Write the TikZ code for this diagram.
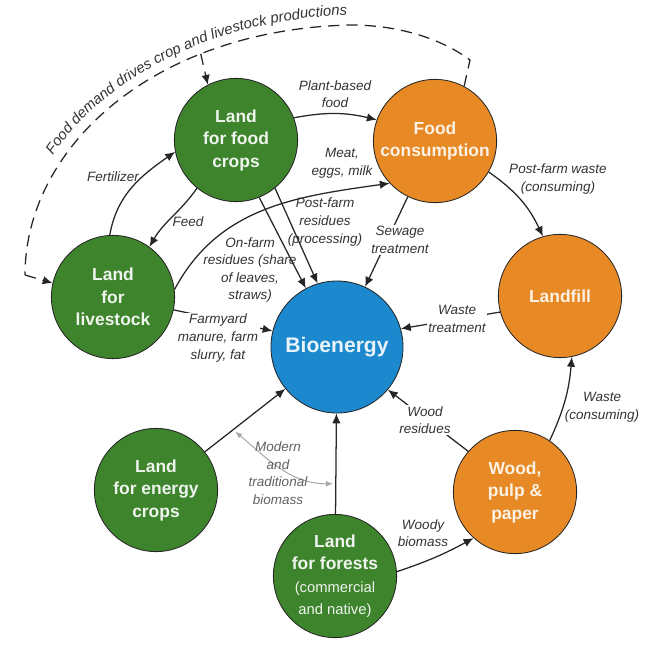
\documentclass[tikz,border=0pt]{standalone}
\usepackage{fontspec}
\setmainfont{Liberation Sans}
\usetikzlibrary{arrows.meta,decorations.text}
\definecolor{landgreen}{RGB}{62,132,44}
\definecolor{sinkorange}{RGB}{231,138,38}
\definecolor{bioblue}{RGB}{28,137,207}
\colorlet{landtext}{landgreen!8!white}
\colorlet{sinktext}{sinkorange!12!white}
\colorlet{biotext}{bioblue!10!white}
\colorlet{flowline}{black!85}
\colorlet{hintline}{black!35}
\newcommand{\lblfont}{\fontsize{9.6}{12.5}\selectfont\itshape}
\newcommand{\circfont}{\fontsize{12.4}{16}\selectfont\bfseries}
\newcommand{\smallreg}[1]{{\mdseries\fontsize{10.5}{13}\selectfont #1}}

\begin{document}
\begin{tikzpicture}[x=0.025cm,y=0.025cm,
    any/.style={circle,draw=black!85,line width=0.6pt,minimum size=3.08cm,%
                inner sep=0pt,align=center,font=\circfont},
    land/.style={any,fill=landgreen,text=landtext},
    sink/.style={any,fill=sinkorange,text=sinktext},
    hub/.style={any,fill=bioblue,text=biotext,minimum size=3.3cm,%
                font=\fontsize{15}{18}\selectfont\bfseries},
    lbl/.style={font=\lblfont,text=black!80,align=center,inner sep=1pt},
    onl/.style={lbl,fill=white},
    flow/.style={draw=flowline,line width=0.9pt,-{Latex[length=7pt,width=6pt]}},
    hint/.style={draw=hintline,line width=0.7pt,shorten <=2pt,shorten >=2pt,%
                 {Latex[length=5pt,width=4pt]}-{Latex[length=5pt,width=4pt]}},
    demand/.style={draw=flowline,line width=0.9pt,dash pattern=on 8pt off 5pt}
]
\useasboundingbox (0,0) rectangle (663,647);

\node[land] (food) at (236,507) {Land\\for food\\crops};
\node[sink] (cons) at (435,506) {Food\\consumption};
\node[land] (stock) at (113,350) {Land\\for\\livestock};
\node[hub] (bio) at (337,300) {Bioenergy};
\node[sink] (landfill) at (560,351) {Landfill};
\node[sink] (wood) at (515,155) {Wood,\\pulp \&\\paper};
\node[land] (energy) at (156,157) {Land\\for energy\\crops};
\node[land] (forest) at (335,71) {Land\\for forests\\\smallreg{(commercial}\\\smallreg{and native)}};

\coordinate (dR) at (470,587);
\coordinate (dTop) at (350,622);
\coordinate (dL) at (25,372);

\draw[demand] (cons.62) -- (dR) .. controls (450,602) and (410,622) .. (dTop)%
    .. controls (150,617) and (25,497) .. coordinate[pos=0.28] (dT) (dL);
\draw[demand,-{Latex[length=7pt,width=6pt]}] (dL) -- (stock.167);
\draw[demand,-{Latex[length=7pt,width=6pt]}] (dT) -- (food.117);
\path[decorate,decoration={text along path,text align=center,text color=black!80,%
    text={|\fontsize{10.5}{12}\selectfont\itshape|Food demand drives crop and livestock productions}}]
    (49,486) .. controls (100,566) and (210,629) .. (354,632);

\draw[flow] (food.21) to[bend left=12] (cons.160);
\draw[flow] (stock.7) to[out=62,in=188] (cons.223);
\draw[flow] (stock.93) to[out=80,in=215] (food.191);
\draw[flow] (food.231) to[out=235,in=60] (stock.54);
\draw[flow] (food.292) -- (bio.118);
\draw[flow] (food.309) -- (bio.107);
\draw[flow] (cons.244) -- (bio.65);
\draw[flow] (landfill.195) -- (bio.16);
\draw[flow] (stock.348) -- (bio.166);
\draw[flow] (cons.330) to[bend left=15] (landfill.106);
\draw[flow] (wood.56) to[bend right=10] (landfill.281);
\draw[flow] (wood.139) -- (bio.320);
\draw[flow] (energy.38) -- coordinate[pos=0.35] (eb) (bio.219);
\draw[flow] (forest) -- coordinate[pos=0.3] (fb) (bio);
\draw[flow] (forest.4) to[bend right=5] (wood.228);
\draw[hint] (eb) to[out=-40,in=180] (fb);

\node[lbl] (plantlbl) at (335,553) {Plant-based\\food};
\node[lbl] (meatlbl) at (342,484) {Meat,\\eggs, milk};
\node[lbl] (fertlbl) at (113,470) {Fertilizer};
\node[lbl] (feedlbl) at (188,425) {Feed};
\node[lbl] (onfarmlbl) at (250,377) {On-farm\\residues (share\\of leaves,\\straws)};
\node[lbl] (postlbl) at (325,425) {Post-farm\\residues\\(processing)};
\node[onl] (sewlbl) at (400,407) {Sewage\\treatment};
\node[onl] (wastelbl) at (457,328) {Waste\\treatment};
\node[onl] (manurelbl) at (218,309) {Farmyard\\manure, farm\\slurry, fat};
\node[lbl] (pfwlbl) at (558,468) {Post-farm waste\\(consuming)};
\node[lbl] (wclbl) at (602,240) {Waste\\(consuming)};
\node[onl] (woodreslbl) at (425,227) {Wood\\residues};
\node[lbl] (woodylbl) at (423,114) {Woody\\biomass};
\node[lbl,text=black!62] (modlbl) at (278,174) {Modern\\and\\traditional\\biomass};
\end{tikzpicture}
\end{document}
